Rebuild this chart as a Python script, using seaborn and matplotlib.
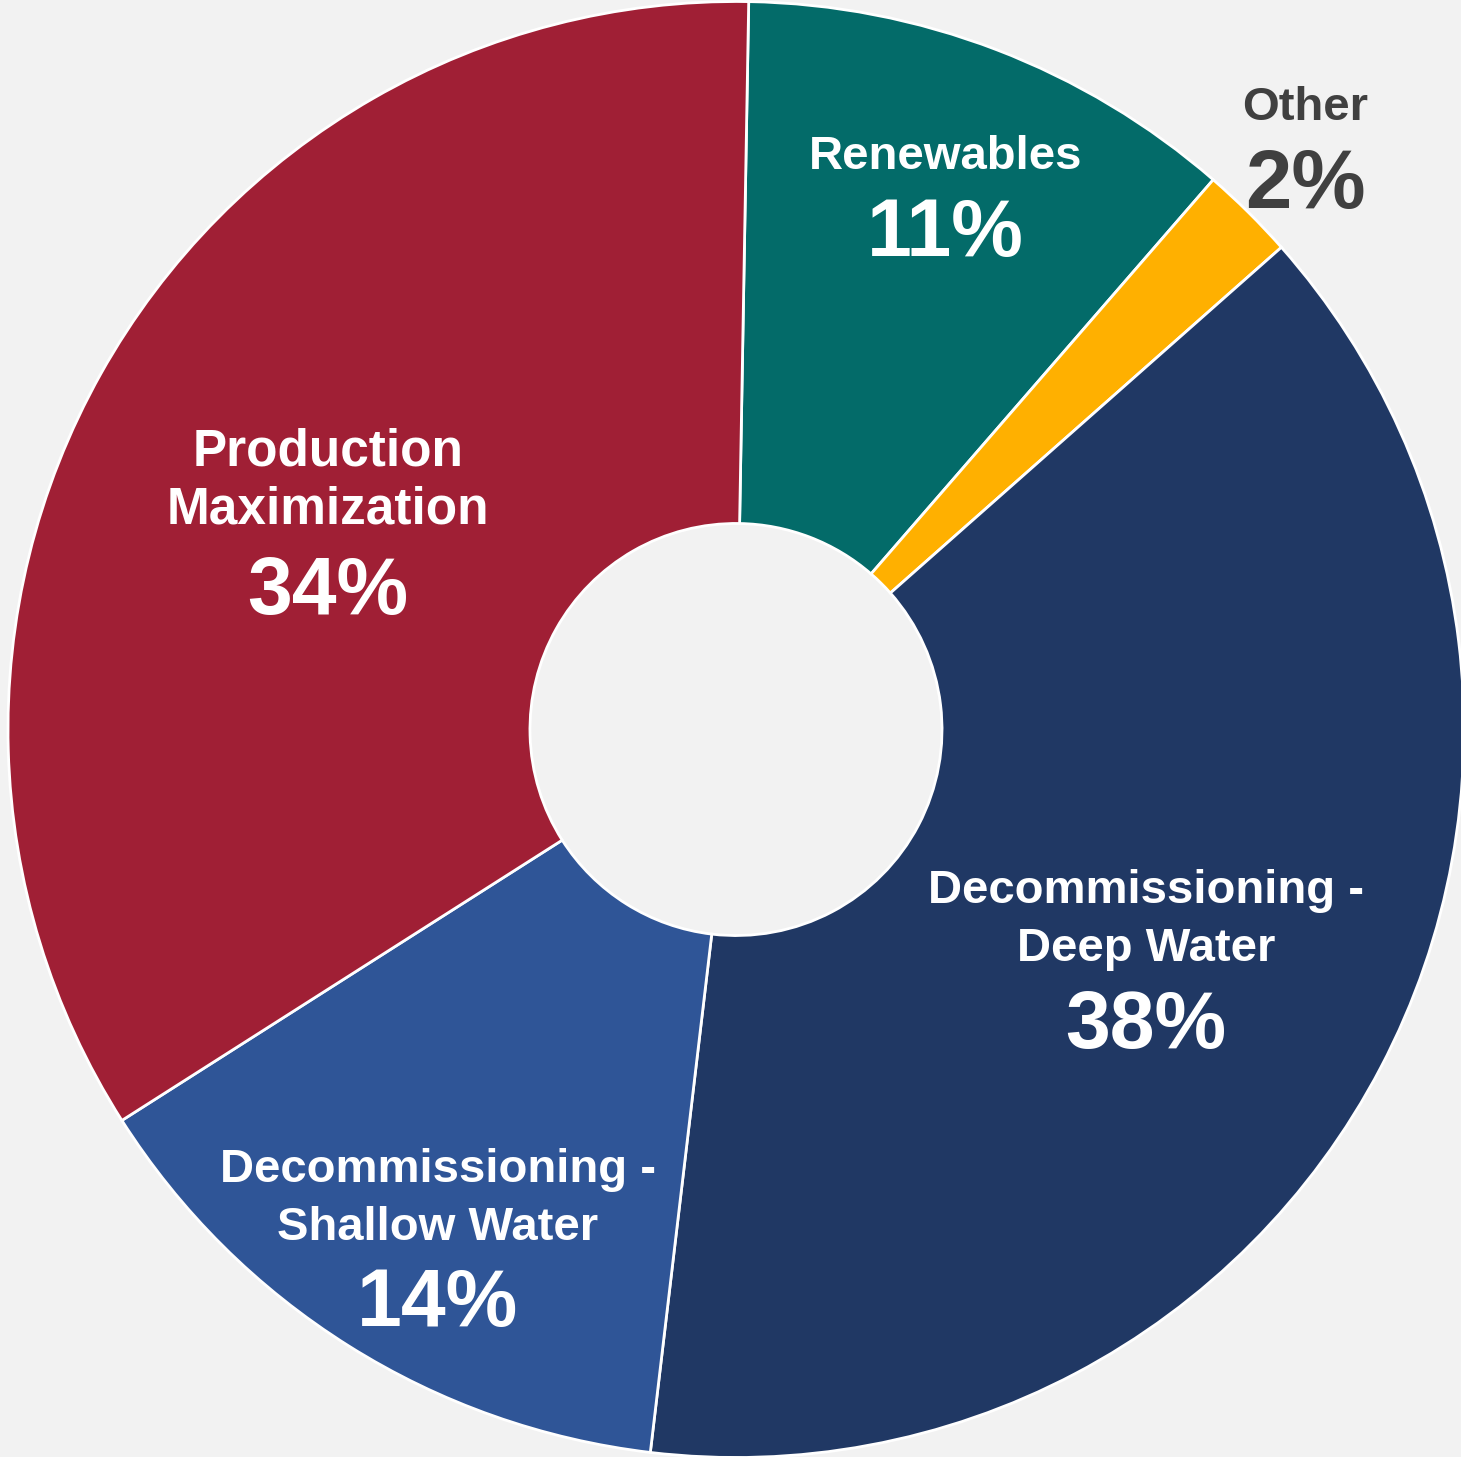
import numpy as np
import matplotlib
matplotlib.use("Agg")
import matplotlib.pyplot as plt
import seaborn as sns

# slice values (percent), clockwise from 12 o'clock
categories = ["Renewables", "Other", "Decommissioning - Deep Water",
              "Decommissioning - Shallow Water", "Production Maximization"]
label_lines = [["Renewables"], ["Other"], ["Decommissioning -", "Deep Water"],
               ["Decommissioning -", "Shallow Water"], ["Production", "Maximization"]]
shares = [11.1, 2.1, 38.4, 14.1, 34.3]

colors = ["#036B69", "#FFB000", "#203864", "#2F5597", "#A01F35"]
text_colors = ["white", "#404040", "white", "white", "white"]
# label placement / sizes (style only)
label_radius = [0.788, 1.119, 0.645, 0.809, 0.629]
label_shift = [0.45, -0.4, 1.5, -1.7, -2.2]   # degrees, clockwise
name_size = [34, 34, 34, 34, 37]
pct_size = [58, 60, 58, 58, 58]
pct_gap = [87, 88, 87, 86, 90]

sns.set_theme(style="white")
plt.rcParams["font.family"] = ["Liberation Sans", "DejaVu Sans"]
bg = "#F2F2F2"

W, H, DPI = 1461, 1457, 100
fig = plt.figure(figsize=(W / DPI, H / DPI), dpi=DPI, facecolor=bg)
cx, cy, R = 736, 729.5, 728
ax = fig.add_axes([(cx - R) / W, (H - cy - R) / H, 2 * R / W, 2 * R / H])
ax.set_facecolor(bg)

wedges, _ = ax.pie(shares, colors=colors, startangle=89, counterclock=False,
                   radius=1, wedgeprops=dict(width=0.717, edgecolor="white", linewidth=2))
ax.set_xlim(-1, 1)
ax.set_ylim(-1, 1)
ax.set_aspect("equal")
ax.axis("off")

line_step = 58
for k, (w, lines, v) in enumerate(zip(wedges, label_lines, shares)):
    mid = np.deg2rad((w.theta1 + w.theta2) / 2 - label_shift[k])
    r = label_radius[k]
    pos = (r * np.cos(mid), r * np.sin(mid))
    cap = name_size[k] * 1.389 * 0.716
    height = pct_gap[k] + (len(lines) - 1) * line_step + cap
    pct_y = -height / 2
    ax.annotate(f"{v:.0f}%", pos, xytext=(0, pct_y), textcoords="offset pixels",
                ha="center", va="baseline", fontsize=pct_size[k], fontweight="bold",
                color=text_colors[k], annotation_clip=False)
    for i, line in enumerate(reversed(lines)):
        ax.annotate(line, pos, xytext=(0, pct_y + pct_gap[k] + line_step * i),
                    textcoords="offset pixels", ha="center", va="baseline",
                    fontsize=name_size[k], fontweight="bold",
                    color=text_colors[k], annotation_clip=False)

fig.savefig("out.png", dpi=DPI, facecolor=bg)
